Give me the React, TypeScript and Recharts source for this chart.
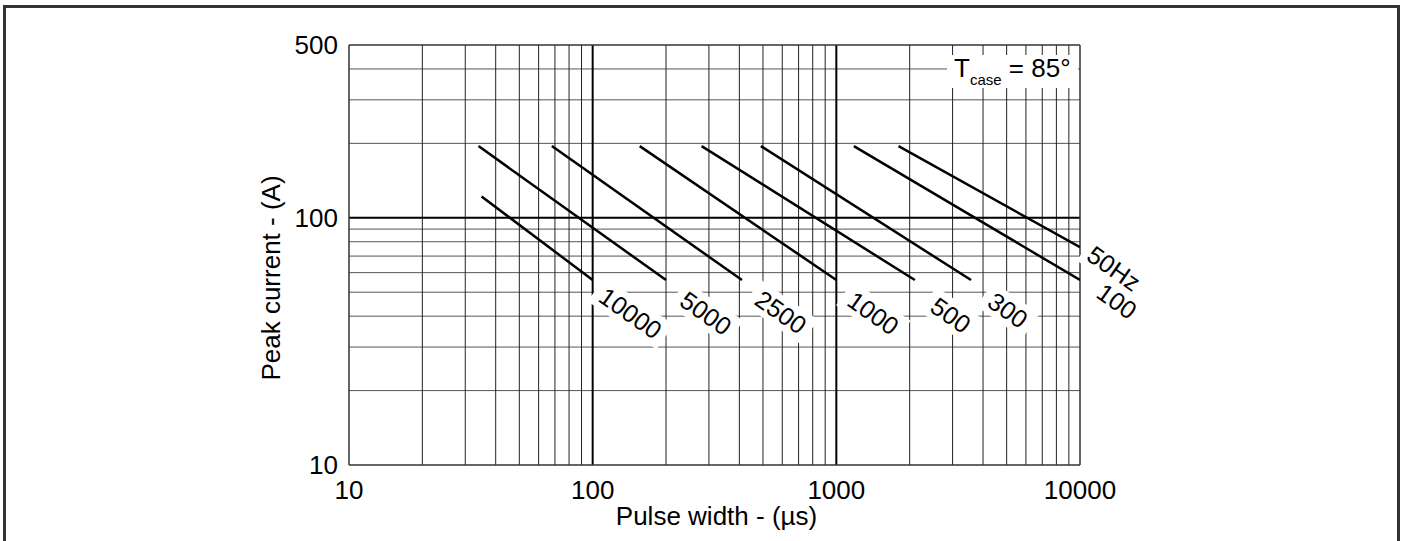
import { ComposedChart, Line, ReferenceDot, ReferenceLine, XAxis, YAxis } from 'recharts';

// pulse width (µs) vs peak current (A)
const xTicks = [10, 100, 1000, 10000];
const yTicks = [10, 100, 500];
const xMajor = [100, 1000];
const xEdge = [10, 10000];
const xMinor = [20, 30, 40, 50, 60, 70, 80, 90, 200, 300, 400, 500, 600, 700, 800, 900, 2000, 3000, 4000, 5000, 6000, 7000, 8000, 9000];
const yMajor = [100];
const yEdge = [10, 500];
const yMinor = [20, 30, 40, 50, 60, 70, 80, 90, 200, 300, 400];

const hz10000 = [{ pw: 35, amp: 122 }, { pw: 100, amp: 56 }];
const hz5000 = [{ pw: 34, amp: 195 }, { pw: 200, amp: 56 }];
const hz2500 = [{ pw: 68, amp: 195 }, { pw: 410, amp: 56 }];
const hz1000 = [{ pw: 156, amp: 195 }, { pw: 1000, amp: 56 }];
const hz500 = [{ pw: 280, amp: 195 }, { pw: 2100, amp: 56 }];
const hz300 = [{ pw: 490, amp: 195 }, { pw: 3570, amp: 56 }];
const hz100 = [{ pw: 1180, amp: 195 }, { pw: 10000, amp: 56 }];
const hz50 = [{ pw: 1800, amp: 195 }, { pw: 10000, amp: 76 }];

const curves = [
  { label: '10000', data: hz10000, dx: 38, dy: 33 },
  { label: '5000', data: hz5000, dx: 40, dy: 33 },
  { label: '2500', data: hz2500, dx: 39, dy: 32 },
  { label: '1000', data: hz1000, dx: 37, dy: 33 },
  { label: '500', data: hz500, dx: 36, dy: 35 },
  { label: '300', data: hz300, dx: 37, dy: 30 },
  { label: '100', data: hz100, dx: 37, dy: 21 },
  { label: '50Hz', data: hz50, dx: 34, dy: 21 },
];

const FONT = '"Liberation Sans", Arial, Helvetica, sans-serif';

const CurveLabel = (props: any) => {
  const { cx, cy, text, dx, dy } = props;
  const w = text.length * 14 + 14;
  const x = cx + dx;
  const y = cy + dy;
  return (
    <g transform={`rotate(35 ${x} ${y})`}>
      <rect x={x - w / 2} y={y - 15} width={w} height={30} fill="#fff" />
      <text x={x} y={y} textAnchor="middle" dominantBaseline="central" fontSize={25} fontFamily={FONT} fill="#000">
        {text}
      </text>
    </g>
  );
};

const CaseNote = (props: any) => {
  const { cx, cy } = props;
  return (
    <g>
      <rect x={cx - 133} y={cy + 10} width={131} height={33} fill="#fff" />
      <text x={cx - 126} y={cy + 32} fontSize={26} fontFamily={FONT} fill="#000">
        T
        <tspan fontSize={15} dy={8}>case</tspan>
        <tspan fontSize={26} dy={-8}> = 85°</tspan>
      </text>
    </g>
  );
};

const App = () => {
  return (
    <div style={{ position: 'absolute', left: 0, top: 0, width: 1407, height: 541, background: '#fff', overflow: 'hidden' }}>
      <div
        style={{
          position: 'absolute',
          left: 3,
          top: 5,
          width: 1391,
          height: 600,
          borderTop: '3px solid #333',
          borderLeft: '3px solid #333',
          borderRight: '3px solid #333',
        }}
      />
      <div style={{ position: 'absolute', left: 0, top: 0 }}>
        <ComposedChart width={1407} height={541} margin={{ top: 45, right: 327, left: 289, bottom: 46 }}>
          <XAxis
            dataKey="pw"
            type="number"
            scale="log"
            domain={[10, 10000]}
            ticks={xTicks}
            allowDataOverflow
            axisLine={false}
            tickLine={false}
            tickMargin={10}
            height={30}
            tick={{ fill: '#000', fontSize: 26, fontFamily: FONT }}
            label={(p: any) => {
              const vb = p.viewBox;
              return (
                <text x={vb.x + vb.width / 2 + 2} y={vb.y + 60} textAnchor="middle" fontSize={26} fontFamily={FONT} fill="#000">
                  Pulse width - (µs)
                </text>
              );
            }}
          />
          <YAxis
            dataKey="amp"
            type="number"
            scale="log"
            domain={[10, 500]}
            ticks={yTicks}
            allowDataOverflow
            axisLine={false}
            tickLine={false}
            tickMargin={5}
            width={60}
            tick={{ fill: '#000', fontSize: 26, fontFamily: FONT }}
            label={(p: any) => {
              const vb = p.viewBox;
              const x = vb.x - 18;
              const y = vb.y + vb.height / 2 + 23;
              return (
                <text x={x} y={y} transform={`rotate(-90 ${x} ${y})`} textAnchor="middle" dominantBaseline="central" fontSize={26} fontFamily={FONT} fill="#000">
                  Peak current - (A)
                </text>
              );
            }}
          />

          {yMinor.map((v) => (
            <ReferenceLine key={`ym${v}`} y={v} stroke="#555" strokeWidth={1} ifOverflow="visible" />
          ))}
          {xMinor.map((v) => (
            <ReferenceLine key={`xm${v}`} x={v} stroke="#222" strokeWidth={1} ifOverflow="visible" />
          ))}
          {yMajor.map((v) => (
            <ReferenceLine key={`yM${v}`} y={v} stroke="#000" strokeWidth={2} ifOverflow="visible" />
          ))}
          {xMajor.map((v) => (
            <ReferenceLine key={`xM${v}`} x={v} stroke="#000" strokeWidth={2} ifOverflow="visible" />
          ))}
          {yEdge.map((v) => (
            <ReferenceLine key={`yE${v}`} y={v} stroke="#333" strokeWidth={1.5} ifOverflow="visible" />
          ))}
          {xEdge.map((v) => (
            <ReferenceLine key={`xE${v}`} x={v} stroke="#333" strokeWidth={1.5} ifOverflow="visible" />
          ))}

          {curves.map((c) => {
            const end = c.data[c.data.length - 1];
            return (
              <ReferenceDot
                key={`lbl${c.label}`}
                x={end.pw}
                y={end.amp}
                r={0}
                ifOverflow="visible"
                shape={(p: any) => <CurveLabel {...p} text={c.label} dx={c.dx} dy={c.dy} />}
              />
            );
          })}
          <ReferenceDot x={10000} y={500} r={0} ifOverflow="visible" shape={(p: any) => <CaseNote {...p} />} />

          {curves.map((c) => (
            <Line
              key={c.label}
              data={c.data}
              dataKey="amp"
              type="linear"
              stroke="#000"
              strokeWidth={2.5}
              dot={false}
              activeDot={false}
              isAnimationActive={false}
            />
          ))}
        </ComposedChart>
      </div>
    </div>
  );
};

export default App;
